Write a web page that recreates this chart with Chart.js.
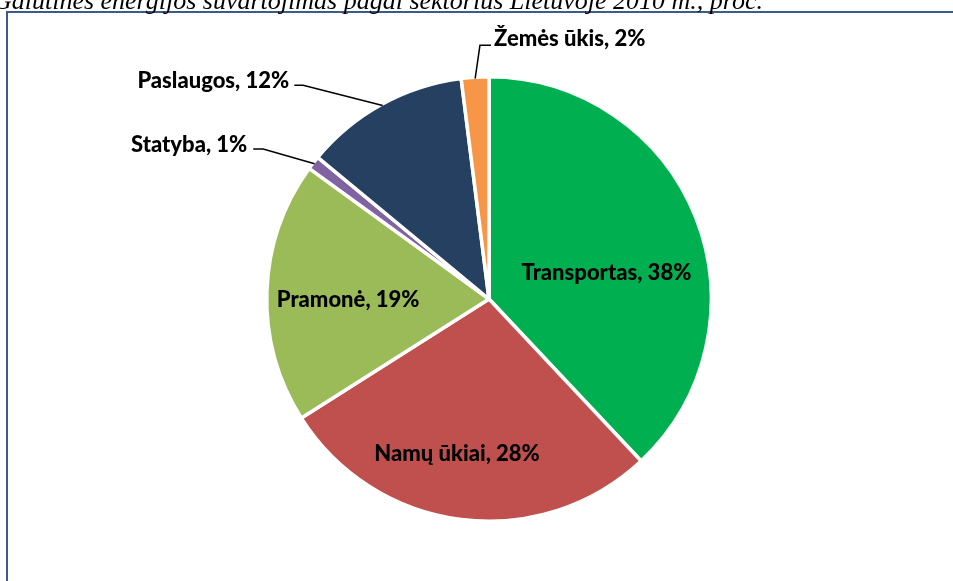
<!DOCTYPE html>
<html><head><meta charset="utf-8">
<script src="https://cdn.jsdelivr.net/npm/chart.js@4"></script>
<style>html,body{margin:0;padding:0;background:#fff;overflow:hidden}#wrap{position:relative;width:953px;height:581px}</style>
</head><body><div id="wrap"><canvas id="c" width="953" height="581"></canvas></div>
<script>
const titleText = 'Galutinės energijos suvartojimas pagal sektorius Lietuvoje 2010 m., proc.';
const categories = ['Transportas', 'Namų ūkiai', 'Pramonė', 'Statyba', 'Paslaugos', 'Žemės ūkis'];
const shares = [38, 28, 19, 1, 12, 2];
const sliceColors = ['#00B050', '#C0504D', '#9BBB59', '#8064A2', '#254061', '#F79646'];

// label placement, in units of the pie radius relative to the pie centre
const labelLayout = [
  {x: 0.532, y: -0.086},
  {x: -0.145, y: 0.733},
  {x: -0.638, y: 0.036},
  {align: 'right', tx: -1.095, ty: -0.665, sx: -1.068, sy: -0.679, ex: -1.023, ey: -0.679},
  {align: 'right', tx: -0.905, ty: -0.955, sx: -0.882, sy: -0.968, ex: -0.842, ey: -0.968},
  {align: 'left', tx: 0.023, ty: -1.145, sx: 0.009, sy: -1.149, ex: -0.041, ey: -1.149}
];

const LABEL_FONT = '900 22px Lato, "Open Sans", sans-serif';

const decor = {
  id: 'decor',
  beforeDraw(chart) {
    const ctx = chart.ctx;
    ctx.save();
    ctx.strokeStyle = '#3B5C84';
    ctx.lineWidth = 2;
    ctx.strokeRect(7, 12, 980, 620);
    ctx.fillStyle = '#000';
    ctx.font = 'italic 26px "Liberation Serif", "Times New Roman", serif';
    ctx.textAlign = 'right';
    ctx.textBaseline = 'alphabetic';
    ctx.fillText(titleText, 763, 9);
    ctx.restore();
  },
  afterDatasetsDraw(chart) {
    const ctx = chart.ctx;
    const meta = chart.getDatasetMeta(0);
    ctx.save();
    ctx.font = LABEL_FONT;
    ctx.fillStyle = '#000';
    ctx.strokeStyle = '#000';
    ctx.lineWidth = 1.5;
    ctx.textBaseline = 'alphabetic';
    meta.data.forEach((arc, i) => {
      const p = arc.getProps(['x', 'y', 'outerRadius', 'startAngle', 'endAngle']);
      const r = p.outerRadius - 1.5;
      const L = labelLayout[i];
      const text = categories[i] + ', ' + shares[i] + '%';
      if (L.align === undefined) {
        ctx.textAlign = 'center';
        ctx.fillText(text, p.x + L.x * r, p.y + L.y * r);
      } else {
        const mid = (p.startAngle + p.endAngle) / 2;
        ctx.beginPath();
        ctx.moveTo(p.x + L.sx * r, p.y + L.sy * r);
        ctx.lineTo(p.x + L.ex * r, p.y + L.ey * r);
        ctx.lineTo(p.x + Math.cos(mid) * r, p.y + Math.sin(mid) * r);
        ctx.stroke();
        ctx.textAlign = L.align;
        ctx.fillText(text, p.x + L.tx * r, p.y + L.ty * r);
      }
    });
    ctx.restore();
  }
};

new Chart(document.getElementById('c'), {
  type: 'pie',
  data: {
    labels: categories,
    datasets: [{
      data: shares,
      backgroundColor: sliceColors,
      borderColor: '#FFFFFF',
      borderWidth: 3.5
    }]
  },
  options: {
    responsive: false,
    devicePixelRatio: 1,
    animation: false,
    layout: {padding: {left: 265, right: 240, top: 75, bottom: 58}},
    plugins: {legend: {display: false}, tooltip: {enabled: false}, title: {display: false}}
  },
  plugins: [decor]
});
</script>
</body></html>
